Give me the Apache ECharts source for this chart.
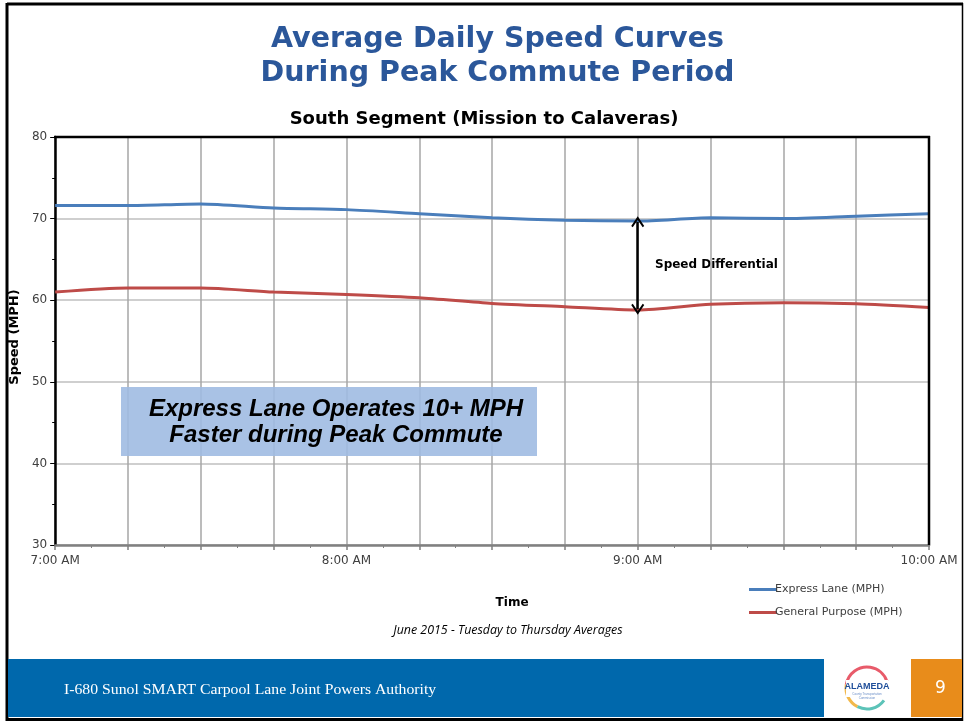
<!DOCTYPE html>
<html>
<head>
<meta charset="utf-8">
<script src="https://cdn.jsdelivr.net/npm/echarts@6/dist/echarts.min.js"></script>
<style>
  html, body { margin: 0; padding: 0; background: #fff; }
  #main { width: 964px; height: 723px; }
</style>
</head>
<body>
<div id="main"></div>
<script>
// minutes after 7:00 AM, one point every 15 minutes
var minutes = [0, 15, 30, 45, 60, 75, 90, 105, 120, 135, 150, 165, 180];
var hourLabels = ['7:00 AM', '8:00 AM', '9:00 AM', '10:00 AM'];
var expressLane = [71.6, 71.6, 71.8, 71.3, 71.1, 70.6, 70.1, 69.8, 69.7, 70.1, 70.0, 70.3, 70.6];
var generalPurpose = [61.0, 61.5, 61.5, 61.0, 60.7, 60.3, 59.6, 59.2, 58.8, 59.5, 59.7, 59.55, 59.1];
var seriesNames = ['Express Lane (MPH)', 'General Purpose (MPH)'];
var arrowAt = 8; // index of 9:00 AM

function pairs(vals) {
    return vals.map(function (v, i) { return [minutes[i], v]; });
}

var myChart = echarts.init(document.getElementById('main'));

var chevron = 'path://M0,0 L6,9 L4.6,10.2 L0,3.4 L-4.6,10.2 L-6,9 Z';

myChart.setOption({
    animation: false,
    title: [
        {
            text: 'Average Daily Speed Curves\nDuring Peak Commute Period',
            left: 492.5, top: 18, textAlign: 'center',
            textStyle: { fontFamily: 'DejaVu Sans', fontWeight: 'bold', fontSize: 28.5, lineHeight: 34, color: '#2B579A' }
        },
        {
            text: 'South Segment (Mission to Calaveras)',
            left: 479, top: 105, textAlign: 'center',
            textStyle: { fontFamily: 'DejaVu Sans', fontWeight: 'bold', fontSize: 18, color: '#000' }
        }
    ],
    legend: {
        data: seriesNames,
        orient: 'vertical',
        left: 744, top: 579,
        itemWidth: 28, itemHeight: 3, itemGap: 12,
        icon: 'rect',
        textStyle: { fontFamily: 'DejaVu Sans', fontSize: 11, color: '#404040', padding: [0, 0, 0, -7] }
    },
    grid: {
        left: 55, right: 35, top: 137, bottom: 178
    },
    xAxis: {
        type: 'value',
        min: 0, max: 180, interval: 15,
        name: 'Time', nameLocation: 'middle', nameGap: 52,
        nameTextStyle: { fontFamily: 'DejaVu Sans', fontWeight: 'bold', fontSize: 12, color: '#000', padding: [0, 0, 0, 40] },
        axisLine: { lineStyle: { color: '#808080', width: 2.5 } },
        axisTick: { length: 5, lineStyle: { color: '#808080', width: 1.5 } },
        minorTick: { show: true, splitNumber: 2, length: 3, lineStyle: { color: '#808080' } },
        splitLine: { show: true, lineStyle: { color: '#A6A6A6', width: 1.5 } },
        axisLabel: {
            fontFamily: 'DejaVu Sans', fontSize: 12, color: '#404040', margin: 10,
            showMinLabel: true, showMaxLabel: true,
            formatter: function (v) { return v % 60 === 0 ? hourLabels[v / 60] : ''; }
        }
    },
    yAxis: {
        type: 'value',
        min: 30, max: 80, interval: 10,
        name: 'Speed (MPH)', nameLocation: 'middle', nameGap: 33, nameRotate: 90,
        nameTextStyle: { fontFamily: 'DejaVu Sans', fontWeight: 'bold', fontSize: 13, color: '#000', padding: [0, 0, 0, 8] },
        axisLine: { show: true, lineStyle: { color: '#000', width: 2.5 } },
        axisTick: { show: true, length: 5, lineStyle: { color: '#000' } },
        minorTick: { show: true, splitNumber: 2, length: 3, lineStyle: { color: '#000' } },
        splitLine: { show: true, lineStyle: { color: '#BFBFBF', width: 1.5 } },
        axisLabel: { fontFamily: 'DejaVu Sans', fontSize: 12, color: '#404040', margin: 8 }
    },
    series: [
        {
            name: seriesNames[0],
            type: 'line',
            smooth: 0.25,
            showSymbol: false,
            data: pairs(expressLane),
            lineStyle: { color: '#4A7EBB', width: 3 },
            itemStyle: { color: '#4A7EBB' }
        },
        {
            name: seriesNames[1],
            type: 'line',
            smooth: 0.25,
            showSymbol: false,
            data: pairs(generalPurpose),
            lineStyle: { color: '#BE4B48', width: 3 },
            itemStyle: { color: '#BE4B48' },
            markLine: {
                silent: true,
                symbol: [chevron, chevron],
                symbolSize: [13, 11],
                lineStyle: { color: '#000', width: 2.5, type: 'solid' },
                label: { show: false },
                data: [[
                    { coord: [minutes[arrowAt], expressLane[arrowAt] - 0.1] },
                    { coord: [minutes[arrowAt], generalPurpose[arrowAt] + 0.1] }
                ]]
            }
        }
    ],
    graphic: [
        // slide frame
        { type: 'line', shape: { x1: 7, y1: 4, x2: 963, y2: 4 }, style: { stroke: '#000', lineWidth: 3 } },
        { type: 'line', shape: { x1: 7, y1: 3, x2: 7, y2: 721 }, style: { stroke: '#000', lineWidth: 3 } },
        { type: 'line', shape: { x1: 962.5, y1: 3, x2: 962.5, y2: 721 }, style: { stroke: '#000', lineWidth: 1.5 } },
        // plot frame top and right
        { type: 'line', z: 10, shape: { x1: 54, y1: 137, x2: 930, y2: 137 }, style: { stroke: '#000', lineWidth: 2.5 } },
        { type: 'line', z: 10, shape: { x1: 929, y1: 136, x2: 929, y2: 545 }, style: { stroke: '#000', lineWidth: 2.5 } },
        // annotation box
        {
            type: 'group', left: 121, top: 387, z: 10,
            children: [
                { type: 'rect', z: 10, shape: { x: 0, y: 0, width: 416, height: 69 }, style: { fill: 'rgba(160,187,226,0.9)' } },
                {
                    type: 'text', z: 11, x: 215, y: 35,
                    style: {
                        text: 'Express Lane Operates 10+ MPH\nFaster during Peak Commute',
                        fontFamily: 'Liberation Sans', fontWeight: 'bold', fontStyle: 'italic',
                        fontSize: 24, lineHeight: 26, fill: '#000', align: 'center', verticalAlign: 'middle'
                    }
                }
            ]
        },
        {
            type: 'text', left: 655, top: 259,
            style: { text: 'Speed Differential', fontFamily: 'DejaVu Sans', fontWeight: 'bold', fontSize: 12, fill: '#000' }
        },
        {
            type: 'text', x: 508, y: 624,
            style: {
                text: 'June 2015 - Tuesday to Thursday Averages', align: 'center',
                fontFamily: 'Open Sans', fontStyle: 'italic', fontSize: 12.4, fill: '#000'
            }
        },
        // footer banner
        { type: 'rect', shape: { x: 8, y: 659, width: 816, height: 58 }, style: { fill: '#0068AC' } },
        { type: 'rect', shape: { x: 824, y: 659, width: 87, height: 58 }, style: { fill: '#fff' } },
        { type: 'rect', shape: { x: 911, y: 659, width: 51, height: 58 }, style: { fill: '#E88C1B' } },
        { type: 'line', shape: { x1: 7, y1: 719.5, x2: 963, y2: 719.5 }, style: { stroke: '#000', lineWidth: 3 } },
        {
            type: 'text', x: 64, y: 683, scaleX: 1.05,
            style: { text: 'I-680 Sunol SMART Carpool Lane Joint Powers Authority', fontFamily: 'Liberation Serif', fontSize: 15, fill: '#fff' }
        },
        {
            type: 'text', left: 935, top: 680,
            style: { text: '9', fontFamily: 'DejaVu Sans', fontSize: 17, fill: '#fff' }
        },
        // logo
        { type: 'arc', shape: { cx: 867, cy: 688, r: 21, startAngle: Math.PI * 1.05, endAngle: Math.PI * 1.9 }, style: { stroke: '#E85B6A', lineWidth: 3, fill: null } },
        { type: 'arc', shape: { cx: 867, cy: 688, r: 21, startAngle: Math.PI * 0.65, endAngle: Math.PI * 1.05 }, style: { stroke: '#F2B84B', lineWidth: 3, fill: null } },
        { type: 'arc', shape: { cx: 867, cy: 688, r: 21, startAngle: Math.PI * 0.2, endAngle: Math.PI * 0.65 }, style: { stroke: '#5CC3B8', lineWidth: 3, fill: null } },
        { type: 'rect', shape: { x: 846, y: 680, width: 42, height: 17 }, style: { fill: '#fff' } },
        {
            type: 'text', x: 867, y: 682,
            style: { text: 'ALAMEDA', align: 'center', fontFamily: 'Liberation Sans', fontWeight: 'bold', fontSize: 9, fill: '#1F4E9A' }
        },
        {
            type: 'text', x: 867, y: 692,
            style: { text: 'County Transportation\nCommission', align: 'center', fontFamily: 'Liberation Sans', fontSize: 3, lineHeight: 4, fill: '#6A8EC8' }
        }
    ]
});
</script>
</body>
</html>
